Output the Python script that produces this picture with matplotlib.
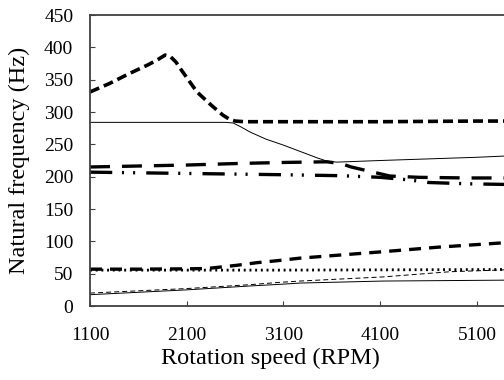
import matplotlib
matplotlib.use("Agg")
import matplotlib.pyplot as plt

# natural frequency curves (rpm, Hz)
rpm_a = [1100, 1300, 1500, 1700, 1800, 1876, 1930, 1990, 2030, 2120, 2206, 2350, 2475, 2540, 2600, 2700, 3100, 4100, 5100, 5400]
hz_a = [331, 344, 359, 373, 381, 388, 386, 377, 368, 349, 331, 311, 295, 289, 286, 285, 285, 285, 286, 286]

rpm_b = [1100, 2100, 2500, 2580, 2660, 2755, 2920, 3096, 3344, 3450, 3551, 3650, 4100, 5100, 5400]
hz_b = [284, 284, 284, 283, 277, 269, 258, 249, 235, 229, 224, 222.5, 225, 230, 232]

rpm_c = [1100, 1600, 2100, 2650, 3100, 3550, 3700, 3800, 4000, 4200, 4500, 5000, 5400]
hz_c = [215, 216.5, 218, 220.5, 222, 223, 220, 215, 208, 201, 199, 198, 198]

rpm_d = [1100, 2100, 3100, 3700, 4100, 4400, 4600, 5000, 5400]
hz_d = [207, 205, 203, 201.5, 199, 195, 191, 189, 188]

rpm_e = [1100, 1600, 2100, 2310, 2620, 2825, 3030, 3270, 4130, 4700, 5400]
hz_e = [57, 57, 57.5, 58, 63, 67, 70, 74, 84, 91, 98]

rpm_f = [1100, 3100, 5400]
hz_f = [55.5, 55.5, 56.5]

rpm_g = [1100, 2100, 2755, 3060, 3270, 4130, 4820, 5400]
hz_g = [20, 27, 33, 36.6, 38.6, 45, 53, 56]

rpm_h = [1100, 2100, 2755, 3060, 3270, 4130, 5400]
hz_h = [17.5, 25, 31, 33.5, 35.5, 38.6, 40]

x_ticks = [1100, 2100, 3100, 4100, 5100]
y_ticks = [0, 50, 100, 150, 200, 250, 300, 350, 400, 450]

plt.rcParams["font.family"] = ["Liberation Serif", "DejaVu Serif"]
plt.rcParams["lines.scale_dashes"] = False

fig = plt.figure(figsize=(5.04, 3.8), dpi=100)
ax = fig.add_axes([0.1786, 0.1947, 0.8214, 0.7658])

k = "black"
ax.plot(rpm_h, hz_h, color=k, lw=0.7)
ax.plot(rpm_g, hz_g, color=k, lw=0.7, dashes=(3.6, 2.2))
ax.plot(rpm_f, hz_f, color=k, lw=2.0, dashes=(1.4, 2.7))
ax.plot(rpm_e, hz_e, color=k, lw=2.4, dashes=(8.6, 5.8))
ax.plot(rpm_d, hz_d, color=k, lw=2.4, dashes=(16, 7, 1.5, 6.5, 1.5, 8))
ax.plot(rpm_c, hz_c, color=k, lw=2.4, dashes=(14.4, 8.6))
ax.plot(rpm_b, hz_b, color=k, lw=0.7)
ax.plot(rpm_a, hz_a, color=k, lw=2.6, dashes=(7.2, 3.6))

ax.set_xlim(1100, 5380)
ax.set_ylim(0, 450)
ax.set_xticks(x_ticks)
ax.set_yticks(y_ticks)
ax.tick_params(direction="in", length=3.6, width=0.8, color="#404040",
               labelsize=14, pad=12)
ax.tick_params(axis="x", pad=15)

for side in ["left", "bottom", "top"]:
    ax.spines[side].set_color("#404040")
    ax.spines[side].set_linewidth(1.3)
ax.spines["right"].set_visible(False)

ax.set_xlabel("Rotation speed (RPM)", fontsize=17.5)
ax.set_ylabel("Natural frequency (Hz)", fontsize=17.5)
ax.xaxis.set_label_coords(0.435, -0.145)
ax.yaxis.set_label_coords(-0.145, 0.5)

fig.savefig("out.png", dpi=100)
